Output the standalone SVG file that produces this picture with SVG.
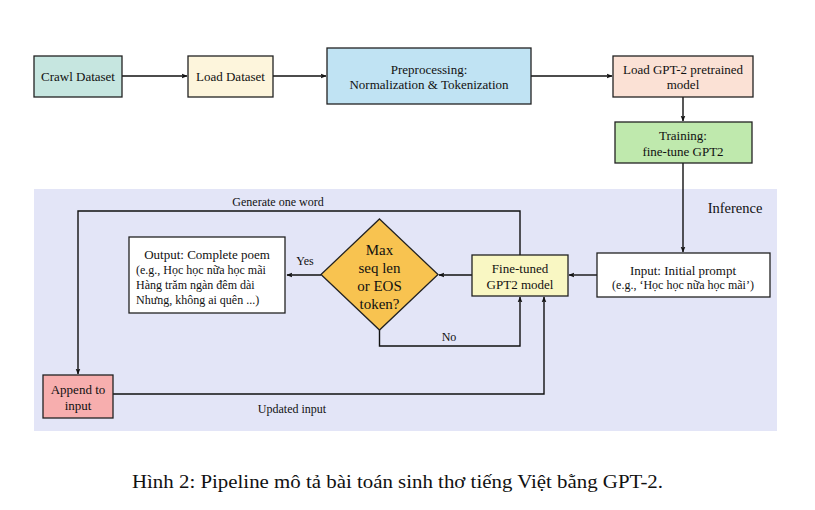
<svg xmlns="http://www.w3.org/2000/svg" width="815" height="510" viewBox="0 0 815 510">
<style>
text{font-family:"Liberation Serif","Times New Roman",serif;fill:#111}
.n{font-size:13px;text-anchor:middle}
.s{font-size:12px}
.box{stroke:#222;stroke-width:1.3}
.ln{fill:none;stroke:#111;stroke-width:1.4}
</style>
<defs>
<marker id="ah" viewBox="0 0 10 10" refX="9" refY="5" markerWidth="6" markerHeight="6" markerUnits="userSpaceOnUse" orient="auto">
<path d="M0,1 L10,5 L0,9 L2,5 Z" fill="#111"/>
</marker>
</defs>
<rect width="815" height="510" fill="#fff"/>
<rect id="inference-bg" x="34" y="189" width="743" height="242" fill="#e3e5f7"/>
<text x="735" y="213" style="font-size:14.5px" text-anchor="middle">Inference</text>

<g id="connectors">
<path class="ln" d="M122,76 H187" marker-end="url(#ah)"/>
<path class="ln" d="M273,76 H326" marker-end="url(#ah)"/>
<path class="ln" d="M531,76 H612" marker-end="url(#ah)"/>
<path class="ln" d="M683,97 V121" marker-end="url(#ah)"/>
<path class="ln" d="M683,163 V252" marker-end="url(#ah)"/>
<path class="ln" d="M597,275 H569" marker-end="url(#ah)"/>
<path class="ln" d="M472,275 H439" marker-end="url(#ah)"/>
<path class="ln" d="M321,275 H287" marker-end="url(#ah)"/>
<path class="ln" d="M520,255 V211 H78 V374" marker-end="url(#ah)"/>
<path class="ln" d="M379.5,330 V346 H520 V297" marker-end="url(#ah)"/>
<path class="ln" d="M113,394 H544 V297" marker-end="url(#ah)"/>
<text x="278" y="206" class="s" text-anchor="middle">Generate one word</text>
<text x="305" y="265" class="s" text-anchor="middle">Yes</text>
<text x="449" y="341" class="s" text-anchor="middle">No</text>
<text x="292" y="413" class="s" text-anchor="middle">Updated input</text>
</g>

<g id="crawl"><rect class="box" x="34" y="56" width="88" height="41" fill="#c6e6e0"/><text class="n" x="78" y="81">Crawl Dataset</text></g>
<g id="load"><rect class="box" x="188" y="56" width="85" height="41" fill="#fdf5dc"/><text class="n" x="230.5" y="81">Load Dataset</text></g>
<g id="preprocess"><rect class="box" x="327" y="48" width="204" height="56" fill="#c0e3f3"/><text class="n" x="429" y="73.5">Preprocessing:</text><text class="n" x="429" y="89">Normalization &amp; Tokenization</text></g>
<g id="loadgpt"><rect class="box" x="613" y="56" width="140" height="41" fill="#fbe1d5"/><text class="n" x="683" y="73.5">Load GPT-2 pretrained</text><text class="n" x="683" y="89">model</text></g>
<g id="training"><rect class="box" x="615" y="122" width="137" height="41" fill="#bfe9ad"/><text class="n" x="683" y="139.5">Training:</text><text class="n" x="683" y="155.5">fine-tune GPT2</text></g>
<g id="input"><rect class="box" x="597" y="253" width="173" height="44" fill="#fff"/><text class="n" x="683" y="274.5">Input: Initial prompt</text><text class="s" x="683" y="288.5" text-anchor="middle">(e.g., ‘Học học nữa học mãi’)</text></g>
<g id="finetuned"><rect class="box" x="472" y="255" width="96" height="41" fill="#f9f7c3"/><text class="n" x="520" y="272.5">Fine-tuned</text><text class="n" x="520" y="288.5">GPT2 model</text></g>
<g id="decision"><polygon class="box" points="379.5,219 438,274.5 379.5,330 321,274.5" fill="#f8c350"/>
<text x="379.5" y="255" style="font-size:15px" text-anchor="middle">Max</text>
<text x="379.5" y="273" style="font-size:15px" text-anchor="middle">seq len</text>
<text x="379.5" y="291" style="font-size:15px" text-anchor="middle">or EOS</text>
<text x="379.5" y="309" style="font-size:15px" text-anchor="middle">token?</text></g>
<g id="output"><rect class="box" x="129" y="237" width="156" height="76" fill="#fff"/>
<text class="n" x="207" y="258.5">Output: Complete poem</text>
<text class="s" x="136" y="274">(e.g., Học học nữa học mãi</text>
<text class="s" x="136" y="289">Hàng trăm ngàn đêm dài</text>
<text class="s" x="136" y="304">Nhưng, không ai quên ...)</text></g>
<g id="append"><rect class="box" x="43" y="375" width="70" height="43" fill="#f7aeae"/><text class="n" x="78" y="393.5">Append to</text><text class="n" x="78" y="410">input</text></g>

<text x="132" y="488" style="font-size:18px" textLength="531" lengthAdjust="spacingAndGlyphs">Hình 2: Pipeline mô tả bài toán sinh thơ tiếng Việt bằng GPT-2.</text>
</svg>
